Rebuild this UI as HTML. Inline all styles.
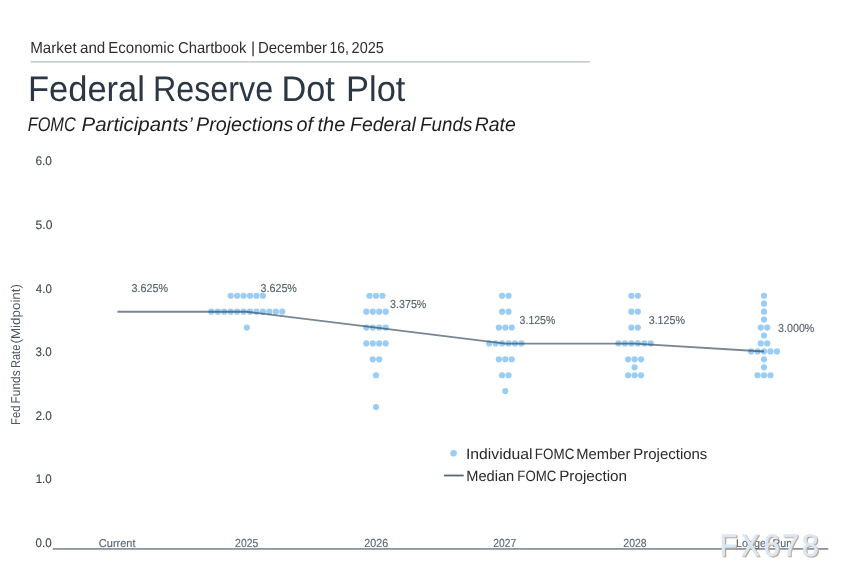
<!DOCTYPE html>
<html><head><meta charset="utf-8"><title>Federal Reserve Dot Plot</title><style>
html,body{margin:0;padding:0;background:#fff;}
body{width:849px;height:581px;overflow:hidden;position:relative;}
svg{position:absolute;left:0;top:0;filter:blur(0.35px);}
text{font-family:"Liberation Sans",sans-serif;text-rendering:geometricPrecision;}
</style></head><body>
<svg width="849" height="581" viewBox="0 0 849 581">
<rect width="849" height="581" fill="#fff"/>
<text x="30.17" y="53.3" font-size="15.85" fill="#2e2e2e" textLength="46.47" lengthAdjust="spacingAndGlyphs">Market</text><text x="80.0" y="53.3" font-size="15.85" fill="#2e2e2e" textLength="25.3" lengthAdjust="spacingAndGlyphs">and</text><text x="108.28" y="53.3" font-size="15.85" fill="#2e2e2e" textLength="65.96" lengthAdjust="spacingAndGlyphs">Economic</text><text x="178.0" y="53.3" font-size="15.85" fill="#2e2e2e" textLength="68.54" lengthAdjust="spacingAndGlyphs">Chartbook</text><text x="250.89" y="53.3" font-size="15.85" fill="#2e2e2e" >|</text><text x="257.98" y="53.3" font-size="15.85" fill="#2e2e2e" textLength="69.05" lengthAdjust="spacingAndGlyphs">December</text><text x="329.54" y="53.3" font-size="15.85" fill="#2e2e2e" textLength="19.28" lengthAdjust="spacingAndGlyphs">16,</text><text x="351.62" y="53.3" font-size="15.85" fill="#2e2e2e" textLength="32.27" lengthAdjust="spacingAndGlyphs">2025</text>
<rect x="30.6" y="61" width="559.4" height="1.6" fill="#c6cbd3"/>
<text x="27.96" y="101.0" font-size="35.6" fill="#2c3744" textLength="117.0" lengthAdjust="spacingAndGlyphs">Federal</text><text x="152.92" y="101.0" font-size="35.6" fill="#2c3744" textLength="120.28" lengthAdjust="spacingAndGlyphs">Reserve</text><text x="281.48" y="101.0" font-size="35.6" fill="#2c3744" textLength="53.43" lengthAdjust="spacingAndGlyphs">Dot</text><text x="346.0" y="101.0" font-size="35.6" fill="#2c3744" textLength="59.36" lengthAdjust="spacingAndGlyphs">Plot</text>
<text x="27.68" y="131.2" font-size="19.8" font-style="italic" fill="#1e1e1e" textLength="48.09" lengthAdjust="spacingAndGlyphs">FOMC</text><text x="81.61" y="131.2" font-size="19.8" font-style="italic" fill="#1e1e1e" textLength="111.28" lengthAdjust="spacingAndGlyphs">Participants’</text><text x="196.0" y="131.2" font-size="19.8" font-style="italic" fill="#1e1e1e" textLength="97.41" lengthAdjust="spacingAndGlyphs">Projections</text><text x="296.6" y="131.2" font-size="19.8" font-style="italic" fill="#1e1e1e" textLength="16.54" lengthAdjust="spacingAndGlyphs">of</text><text x="317.55" y="131.2" font-size="19.8" font-style="italic" fill="#1e1e1e" textLength="27.74" lengthAdjust="spacingAndGlyphs">the</text><text x="350.09" y="131.2" font-size="19.8" font-style="italic" fill="#1e1e1e" textLength="65.77" lengthAdjust="spacingAndGlyphs">Federal</text><text x="420.12" y="131.2" font-size="19.8" font-style="italic" fill="#1e1e1e" textLength="52.17" lengthAdjust="spacingAndGlyphs">Funds</text><text x="474.71" y="131.2" font-size="19.8" font-style="italic" fill="#1e1e1e" textLength="41.08" lengthAdjust="spacingAndGlyphs">Rate</text>
<text x="35.43" y="165.38" font-size="12.4" fill="#40474f" textLength="16.53" lengthAdjust="spacingAndGlyphs" stroke="#40474f" stroke-width="0.12">6.0</text><text x="35.56" y="228.95" font-size="12.4" fill="#40474f" textLength="16.82" lengthAdjust="spacingAndGlyphs" stroke="#40474f" stroke-width="0.12">5.0</text><text x="35.83" y="292.52" font-size="12.4" fill="#40474f" textLength="16.06" lengthAdjust="spacingAndGlyphs" stroke="#40474f" stroke-width="0.12">4.0</text><text x="35.6" y="356.09" font-size="12.4" fill="#40474f" textLength="16.14" lengthAdjust="spacingAndGlyphs" stroke="#40474f" stroke-width="0.12">3.0</text><text x="35.46" y="419.66" font-size="12.4" fill="#40474f" textLength="16.51" lengthAdjust="spacingAndGlyphs" stroke="#40474f" stroke-width="0.12">2.0</text><text x="35.65" y="483.23" font-size="12.4" fill="#40474f" textLength="16.09" lengthAdjust="spacingAndGlyphs" stroke="#40474f" stroke-width="0.12">1.0</text><text x="35.61" y="546.8" font-size="12.4" fill="#40474f" textLength="16.13" lengthAdjust="spacingAndGlyphs" stroke="#40474f" stroke-width="0.12">0.0</text>
<g transform="translate(20.2,0) rotate(-90)"><text x="-425.00" y="0" font-size="12.8" fill="#4d555e" textLength="19.54" lengthAdjust="spacingAndGlyphs">Fed</text><text x="-403.49" y="0" font-size="12.8" fill="#4d555e" textLength="33.24" lengthAdjust="spacingAndGlyphs">Funds</text><text x="-368.00" y="0" font-size="12.8" fill="#4d555e" textLength="23.27" lengthAdjust="spacingAndGlyphs">Rate</text><text x="-343.47" y="0" font-size="12.8" fill="#4d555e" textLength="59.46" lengthAdjust="spacingAndGlyphs">(Midpoint)</text></g>
<rect x="52.7" y="548" width="775.6" height="1.8" fill="#8e959c"/>
<text x="98.87" y="546.6" font-size="11.3" fill="#5b6878" textLength="36.68" lengthAdjust="spacingAndGlyphs" stroke="#5b6878" stroke-width="0.15">Current</text><text x="235.12" y="546.7" font-size="11.7" fill="#5b6878" textLength="23.18" lengthAdjust="spacingAndGlyphs" stroke="#5b6878" stroke-width="0.15">2025</text><text x="364.34" y="546.7" font-size="11.7" fill="#5b6878" textLength="23.78" lengthAdjust="spacingAndGlyphs" stroke="#5b6878" stroke-width="0.15">2026</text><text x="493.36" y="546.7" font-size="11.7" fill="#5b6878" textLength="22.83" lengthAdjust="spacingAndGlyphs" stroke="#5b6878" stroke-width="0.15">2027</text><text x="623.34" y="546.7" font-size="11.7" fill="#5b6878" textLength="23.29" lengthAdjust="spacingAndGlyphs" stroke="#5b6878" stroke-width="0.15">2028</text><text x="736.0" y="546.6" font-size="11.3" fill="#5b6878" textLength="56.21" lengthAdjust="spacingAndGlyphs" stroke="#5b6878" stroke-width="0.15">Longer Run</text>
<g fill="#9acdf5"><circle cx="230.68" cy="295.77" r="3.1"/><circle cx="237.12" cy="295.77" r="3.1"/><circle cx="243.58" cy="295.77" r="3.1"/><circle cx="250.03" cy="295.77" r="3.1"/><circle cx="256.48" cy="295.77" r="3.1"/><circle cx="262.93" cy="295.77" r="3.1"/><circle cx="211.33" cy="311.66" r="3.1"/><circle cx="217.78" cy="311.66" r="3.1"/><circle cx="224.23" cy="311.66" r="3.1"/><circle cx="230.68" cy="311.66" r="3.1"/><circle cx="237.12" cy="311.66" r="3.1"/><circle cx="243.58" cy="311.66" r="3.1"/><circle cx="250.03" cy="311.66" r="3.1"/><circle cx="256.48" cy="311.66" r="3.1"/><circle cx="262.93" cy="311.66" r="3.1"/><circle cx="269.38" cy="311.66" r="3.1"/><circle cx="275.82" cy="311.66" r="3.1"/><circle cx="282.28" cy="311.66" r="3.1"/><circle cx="246.80" cy="327.55" r="3.1"/><circle cx="369.55" cy="295.77" r="3.1"/><circle cx="376.00" cy="295.77" r="3.1"/><circle cx="382.45" cy="295.77" r="3.1"/><circle cx="366.32" cy="311.66" r="3.1"/><circle cx="372.77" cy="311.66" r="3.1"/><circle cx="379.23" cy="311.66" r="3.1"/><circle cx="385.68" cy="311.66" r="3.1"/><circle cx="366.32" cy="327.55" r="3.1"/><circle cx="372.77" cy="327.55" r="3.1"/><circle cx="379.23" cy="327.55" r="3.1"/><circle cx="385.68" cy="327.55" r="3.1"/><circle cx="366.32" cy="343.44" r="3.1"/><circle cx="372.77" cy="343.44" r="3.1"/><circle cx="379.23" cy="343.44" r="3.1"/><circle cx="385.68" cy="343.44" r="3.1"/><circle cx="372.77" cy="359.34" r="3.1"/><circle cx="379.23" cy="359.34" r="3.1"/><circle cx="376.00" cy="375.23" r="3.1"/><circle cx="376.00" cy="407.01" r="3.1"/><circle cx="502.07" cy="295.77" r="3.1"/><circle cx="508.53" cy="295.77" r="3.1"/><circle cx="502.07" cy="311.66" r="3.1"/><circle cx="508.53" cy="311.66" r="3.1"/><circle cx="498.85" cy="327.55" r="3.1"/><circle cx="505.30" cy="327.55" r="3.1"/><circle cx="511.75" cy="327.55" r="3.1"/><circle cx="489.18" cy="343.44" r="3.1"/><circle cx="495.62" cy="343.44" r="3.1"/><circle cx="502.07" cy="343.44" r="3.1"/><circle cx="508.53" cy="343.44" r="3.1"/><circle cx="514.98" cy="343.44" r="3.1"/><circle cx="521.42" cy="343.44" r="3.1"/><circle cx="498.85" cy="359.34" r="3.1"/><circle cx="505.30" cy="359.34" r="3.1"/><circle cx="511.75" cy="359.34" r="3.1"/><circle cx="502.07" cy="375.23" r="3.1"/><circle cx="508.53" cy="375.23" r="3.1"/><circle cx="505.30" cy="391.12" r="3.1"/><circle cx="631.38" cy="295.77" r="3.1"/><circle cx="637.83" cy="295.77" r="3.1"/><circle cx="631.38" cy="311.66" r="3.1"/><circle cx="637.83" cy="311.66" r="3.1"/><circle cx="631.38" cy="327.55" r="3.1"/><circle cx="637.83" cy="327.55" r="3.1"/><circle cx="618.48" cy="343.44" r="3.1"/><circle cx="624.93" cy="343.44" r="3.1"/><circle cx="631.38" cy="343.44" r="3.1"/><circle cx="637.83" cy="343.44" r="3.1"/><circle cx="644.27" cy="343.44" r="3.1"/><circle cx="650.73" cy="343.44" r="3.1"/><circle cx="628.15" cy="359.34" r="3.1"/><circle cx="634.60" cy="359.34" r="3.1"/><circle cx="641.05" cy="359.34" r="3.1"/><circle cx="634.60" cy="367.28" r="3.1"/><circle cx="628.15" cy="375.23" r="3.1"/><circle cx="634.60" cy="375.23" r="3.1"/><circle cx="641.05" cy="375.23" r="3.1"/><circle cx="764.00" cy="295.77" r="3.1"/><circle cx="764.00" cy="303.71" r="3.1"/><circle cx="764.00" cy="311.66" r="3.1"/><circle cx="764.00" cy="319.60" r="3.1"/><circle cx="760.77" cy="327.55" r="3.1"/><circle cx="767.23" cy="327.55" r="3.1"/><circle cx="764.00" cy="335.50" r="3.1"/><circle cx="760.77" cy="343.44" r="3.1"/><circle cx="767.23" cy="343.44" r="3.1"/><circle cx="751.10" cy="351.39" r="3.1"/><circle cx="757.55" cy="351.39" r="3.1"/><circle cx="764.00" cy="351.39" r="3.1"/><circle cx="770.45" cy="351.39" r="3.1"/><circle cx="776.90" cy="351.39" r="3.1"/><circle cx="764.00" cy="359.34" r="3.1"/><circle cx="764.00" cy="367.28" r="3.1"/><circle cx="757.55" cy="375.23" r="3.1"/><circle cx="764.00" cy="375.23" r="3.1"/><circle cx="770.45" cy="375.23" r="3.1"/></g>
<polyline points="117.4,311.76 246.8,311.76 376.0,327.65 505.3,343.54 634.6,343.54 764.0,351.49" fill="none" stroke="#2c4256" stroke-opacity="0.64" stroke-width="1.8" stroke-linejoin="round"/>
<text x="131.62" y="292.26" font-size="11.6" fill="#56626f" textLength="36.35" lengthAdjust="spacingAndGlyphs" stroke="#56626f" stroke-width="0.15">3.625%</text><text x="260.53" y="292.26" font-size="11.6" fill="#56626f" textLength="36.36" lengthAdjust="spacingAndGlyphs" stroke="#56626f" stroke-width="0.15">3.625%</text><text x="390.12" y="308.15" font-size="11.6" fill="#56626f" textLength="36.23" lengthAdjust="spacingAndGlyphs" stroke="#56626f" stroke-width="0.15">3.375%</text><text x="519.62" y="324.04" font-size="11.6" fill="#56626f" textLength="35.72" lengthAdjust="spacingAndGlyphs" stroke="#56626f" stroke-width="0.15">3.125%</text><text x="648.72" y="324.04" font-size="11.6" fill="#56626f" textLength="36.17" lengthAdjust="spacingAndGlyphs" stroke="#56626f" stroke-width="0.15">3.125%</text><text x="778.12" y="331.99" font-size="11.6" fill="#56626f" textLength="36.23" lengthAdjust="spacingAndGlyphs" stroke="#56626f" stroke-width="0.15">3.000%</text>
<circle cx="453.6" cy="453.2" r="3.3" fill="#9acdf5"/>
<rect x="444" y="474.6" width="19.7" height="1.8" fill="#56677a"/>
<text x="465.95" y="458.9" font-size="15.0" fill="#2a2a2a" textLength="66.54" lengthAdjust="spacingAndGlyphs">Individual</text><text x="534.86" y="458.9" font-size="15.0" fill="#2a2a2a" textLength="39.47" lengthAdjust="spacingAndGlyphs">FOMC</text><text x="576.32" y="458.9" font-size="15.0" fill="#2a2a2a" textLength="54.17" lengthAdjust="spacingAndGlyphs">Member</text><text x="633.34" y="458.9" font-size="15.0" fill="#2a2a2a" textLength="74.01" lengthAdjust="spacingAndGlyphs">Projections</text>
<text x="466.2" y="481.3" font-size="15.0" fill="#2a2a2a" textLength="48.02" lengthAdjust="spacingAndGlyphs">Median</text><text x="517.3" y="481.3" font-size="15.0" fill="#2a2a2a" textLength="38.95" lengthAdjust="spacingAndGlyphs">FOMC</text><text x="559.21" y="481.3" font-size="15.0" fill="#2a2a2a" textLength="67.79" lengthAdjust="spacingAndGlyphs">Projection</text>
<text transform="translate(720.98,556.80) scale(0.903,1)" font-size="31.25" fill="#c4a78c" stroke="#c4a78c" stroke-width="0.6">F</text><text transform="translate(742.38,556.80) scale(0.878,1)" font-size="31.25" fill="#c4a78c" stroke="#c4a78c" stroke-width="0.6">X</text><text transform="translate(764.71,556.80) scale(0.936,1)" font-size="31.25" fill="#c4a78c" stroke="#c4a78c" stroke-width="0.6">6</text><text transform="translate(783.37,556.80) scale(0.957,1)" font-size="31.25" fill="#c4a78c" stroke="#c4a78c" stroke-width="0.6">7</text><text transform="translate(802.88,556.80) scale(0.975,1)" font-size="31.25" fill="#c4a78c" stroke="#c4a78c" stroke-width="0.6">8</text><text transform="translate(719.78,555.60) scale(0.903,1)" font-size="31.25" fill="#d8e8f9" stroke="#d8e8f9" stroke-width="0.6">F</text><text transform="translate(741.18,555.60) scale(0.878,1)" font-size="31.25" fill="#d8e8f9" stroke="#d8e8f9" stroke-width="0.6">X</text><text transform="translate(763.51,555.60) scale(0.936,1)" font-size="31.25" fill="#d8e8f9" stroke="#d8e8f9" stroke-width="0.6">6</text><text transform="translate(782.17,555.60) scale(0.957,1)" font-size="31.25" fill="#d8e8f9" stroke="#d8e8f9" stroke-width="0.6">7</text><text transform="translate(801.68,555.60) scale(0.975,1)" font-size="31.25" fill="#d8e8f9" stroke="#d8e8f9" stroke-width="0.6">8</text>
</svg>
</body></html>
